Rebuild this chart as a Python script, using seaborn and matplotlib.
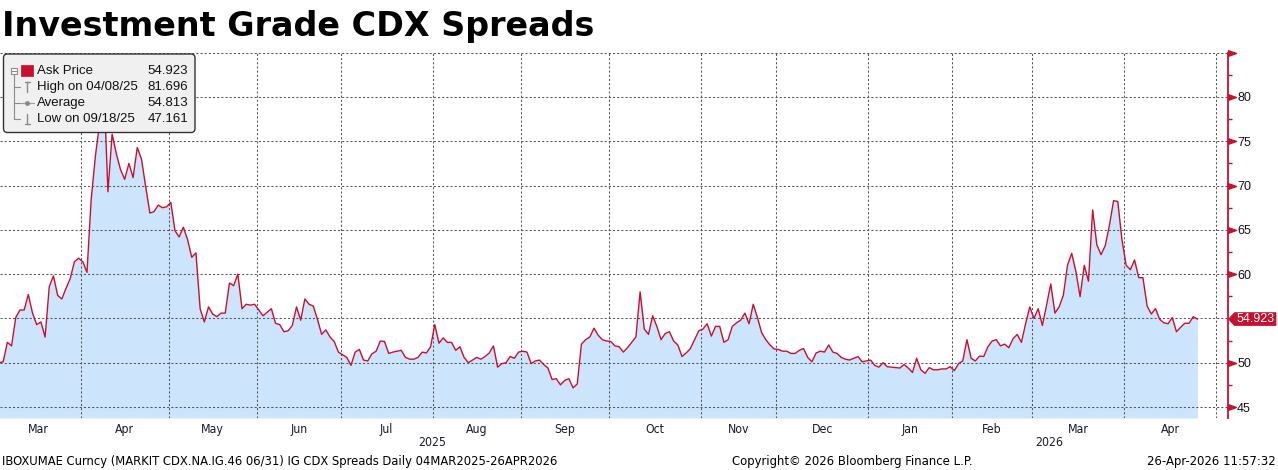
import numpy as np
import pandas as pd
import matplotlib
matplotlib.use("Agg")
import matplotlib.pyplot as plt
import matplotlib.transforms as mtransforms
from matplotlib.lines import Line2D
from matplotlib.patches import FancyBboxPatch, Rectangle, Polygon
import seaborn as sns

# IG CDX ask price, one value per trading day
mar25 = [50.0, 50.1, 52.3, 51.9, 55.1, 55.95, 55.95, 57.7, 55.6, 54.3, 54.6, 52.9, 58.6, 59.8,
         57.6, 57.2, 58.4, 59.5, 61.4, 61.8]
apr25 = [61.4, 60.2, 68.4, 73.3, 77.0, 81.696, 69.3, 75.8, 73.6, 71.8, 70.7, 72.5, 70.9, 74.3,
         73.0, 69.9, 66.9, 67.05, 67.8, 67.5, 67.6]
may25 = [68.1, 64.9, 64.2, 65.3, 63.9, 61.9, 62.4, 56.1, 54.6, 56.3, 55.5, 55.2, 55.6, 55.6,
         59.0, 58.7, 60.0, 56.1, 56.6, 56.5, 56.6]
jun25 = [55.95, 55.3, 55.7, 56.1, 54.45, 54.3, 53.5, 53.6, 54.2, 56.3, 54.8, 57.2, 56.6, 56.4,
         54.9, 53.2, 53.7, 52.9, 52.4, 51.2]
jul25 = [50.9, 50.6, 49.7, 51.2, 51.5, 50.3, 50.2, 51.0, 51.3, 52.45, 52.4, 51.05, 51.2, 51.3,
         51.4, 50.6, 50.4, 50.4, 50.6, 51.2, 51.1, 51.8]
aug25 = [54.3, 52.2, 52.8, 52.3, 52.3, 51.4, 51.8, 50.6, 50.0, 50.3, 50.6, 50.4, 50.7, 51.1,
         51.9, 49.5, 49.9, 50.0, 50.7, 50.5, 51.2]
sep25 = [51.3, 51.2, 49.9, 50.2, 50.3, 49.8, 49.4, 48.1, 48.2, 47.5, 48.0, 48.2, 47.161, 47.6,
         52.1, 52.6, 52.9, 53.9, 53.1, 52.6, 52.45]
oct25 = [52.4, 51.9, 51.8, 51.2, 51.7, 52.3, 52.9, 58.0, 53.8, 53.2, 55.3, 54.1, 52.6, 53.3,
         53.5, 52.45, 52.0, 50.7, 51.1, 51.6, 52.6, 53.6]
nov25 = [53.8, 54.4, 53.0, 54.1, 54.1, 52.3, 52.6, 54.1, 54.5, 54.8, 55.6, 54.4, 56.6, 55.1,
         53.4, 52.6, 52.0, 51.55]
dec25 = [51.5, 51.3, 51.3, 51.05, 51.05, 51.4, 51.6, 50.6, 50.1, 51.1, 51.3, 51.2, 52.0, 51.2,
         51.05, 50.6, 50.4, 50.3, 50.5, 50.7, 50.1, 50.2]
jan26 = [50.3, 49.7, 49.5, 50.0, 49.55, 49.5, 49.45, 49.4, 49.8, 49.4, 48.9, 50.5, 49.2, 48.8,
         49.45, 49.2, 49.2, 49.3, 49.3, 49.55]
feb26 = [49.1, 49.9, 50.2, 52.6, 50.5, 50.2, 50.75, 50.7, 51.8, 52.45, 52.6, 51.9, 52.1, 51.7,
         52.7, 53.2, 52.3, 54.4, 56.3]
mar26 = [55.0, 56.1, 54.2, 56.5, 58.9, 55.6, 56.3, 57.6, 61.0, 62.35, 60.3, 57.45, 61.0, 59.2,
         67.25, 63.3, 62.2, 63.2, 65.5, 68.3, 68.2, 63.85]
apr26 = [61.0, 60.5, 61.6, 59.6, 59.6, 56.4, 55.5, 56.1, 54.9, 54.5, 54.4, 55.1, 53.5, 54.0,
         54.45, 54.45, 55.2, 54.923]

# days the CDX market was shut
holidays = ["2025-04-18", "2025-05-26", "2025-06-19", "2025-07-04", "2025-09-01",
            "2025-10-13", "2025-11-11", "2025-11-27", "2025-12-25", "2026-01-01",
            "2026-01-19", "2026-02-16"]

legend_rows = [("Ask Price", "54.923"), ("High on 04/08/25", "81.696"),
               ("Average", "54.813"), ("Low on 09/18/25", "47.161")]
last_price = 54.923

title = "Investment Grade CDX Spreads"
footer_left = "IBOXUMAE Curncy (MARKIT CDX.NA.IG.46 06/31) IG CDX Spreads Daily 04MAR2025-26APR2026"
footer_mid = "Copyright\u00a9 2026 Bloomberg Finance L.P."
footer_right = "26-Apr-2026 11:57:32"

values = mar25 + apr25 + may25 + jun25 + jul25 + aug25 + sep25 + oct25 + nov25 + dec25 + jan26 + feb26 + mar26 + apr26
dates = pd.bdate_range("2025-03-04", "2026-04-24", freq="C", holidays=holidays)
df = pd.DataFrame({"date": dates, "ask": values})
df["pos"] = np.arange(len(df))

# the x axis runs on trading days and a bit past the last print
cal = pd.DataFrame({"date": pd.bdate_range("2025-03-04", "2026-05-08", freq="C", holidays=holidays)})
cal["pos"] = np.arange(len(cal))
cal["month"] = cal["date"].dt.to_period("M")
months = cal.groupby("month")["pos"].agg(["min", "max"])

XMIN, XMAX = 0.24, 293.3
YMIN, YMAX = 43.76, 85

RED = "#c8102e"
FILL = "#cce4fc"
GRID = "#555555"
NARROW = ["Liberation Sans Narrow", "DejaVu Sans"]

sns.set_style("white")
plt.rcParams["font.family"] = ["Liberation Sans", "DejaVu Sans"]

W, H = 1278, 470
fig = plt.figure(figsize=(W / 100, H / 100), dpi=100)
ax = fig.add_axes([0, (H - 418) / H, 1228 / W, (418 - 52.7) / H])
PX = mtransforms.Affine2D().scale(1 / W, 1 / H) + fig.transFigure


def py(y):
    return H - y


ax.fill_between(df["pos"], df["ask"], YMIN, color=FILL, lw=0, zorder=1)
sns.lineplot(data=df, x="pos", y="ask", color=RED, lw=1.0, ax=ax, zorder=3)
ax.set_xlim(XMIN, XMAX)
ax.set_ylim(YMIN, YMAX)
ax.set_xlabel("")
ax.set_ylabel("")

# y axis on the right, red spine
majors = list(range(45, 86, 5))
ax.yaxis.tick_right()
ax.set_yticks(majors)
ax.set_yticklabels(["" if v in (55, 85) else str(v) for v in majors])
ax.set_yticks(np.arange(47.5, 85, 5), minor=True)
ax.tick_params(axis="y", which="major", length=0, pad=6.6, labelsize=9, labelcolor="#111111")
ax.tick_params(axis="y", which="minor", length=3, width=1, color=RED, direction="out")
for s in ["left", "top", "bottom"]:
    ax.spines[s].set_visible(False)
ax.spines["right"].set_color(RED)
ax.spines["right"].set_linewidth(1.3)

ytr = mtransforms.blended_transform_factory(ax.transAxes, ax.transData)
pennant = [(0, -0.35), (1, 0), (0, 0.35), (0, -0.35)]
ticks_shown = [v for v in majors if v != 55]
ax.plot([1] * len(ticks_shown), ticks_shown, ls="none", marker=pennant, ms=11.5,
        color=RED, transform=ytr, clip_on=False, zorder=5)

# month labels centred in each month, grid at month boundaries
shown = months[(months["min"] + months["max"]) / 2 < XMAX]
centers = ((shown["min"] + shown["max"]) / 2).to_numpy()
ax.set_xticks(centers)
ax.set_xticklabels(shown.index.strftime("%b"))
bounds = (months["min"].iloc[1:] - 0.5).to_numpy()
ax.set_xticks(bounds, minor=True)
ax.tick_params(axis="x", which="both", length=0, pad=3.5, labelcolor="#1a1a2e")
ax.set_axisbelow(False)
ax.grid(True, which="minor", axis="x", ls=(0, (2, 2)), color=GRID, lw=0.75)
ax.grid(True, which="major", axis="y", ls=(0, (2, 2)), color=GRID, lw=0.75)

# title
fig.text(2 / W, py(36) / H, title, fontsize=24, fontweight="bold", family="DejaVu Sans",
         va="baseline", ha="left", color="black")

# footer, fitted to the widths in the reference
r = fig.canvas.get_renderer()
foot = []
for txt, x, ha, target in [(footer_left, 2, "left", 559), (footer_mid, 852, "center", 241),
                           (footer_right, 1276, "right", 129)]:
    t = fig.text(x / W, py(461) / H, txt, ha=ha, va="center", family=NARROW,
                 fontstretch="condensed", fontsize=9, color="black")
    w = t.get_window_extent(renderer=r).width
    t.set_fontsize(9 * target / w)
    foot.append(t)
small = foot[0].get_fontsize()
for lab in ax.get_xticklabels():
    lab.set_family(NARROW)
    lab.set_fontstretch("condensed")
    lab.set_fontsize(small * 0.95)

years = cal.groupby(cal["date"].dt.year)["pos"].min()
ytx = mtransforms.blended_transform_factory(ax.transData, fig.transFigure)
for yr, xc in [("2025", (years[2025] + years[2026] - 1) / 2), ("2026", (years[2026] + XMAX) / 2)]:
    ax.text(xc, py(443) / H, yr, transform=ytx, ha="center", va="center", family=NARROW,
            fontstretch="condensed", fontsize=small * 0.95, color="#1a1a2e")

# last price tag on the axis
tip = ytr.transform((1, last_price))
tag_tr = mtransforms.Affine2D().translate(tip[0], tip[1])
tag = Polygon([(0.5, 0), (6.5, 6.5), (48, 6.5), (48, -6.5), (6.5, -6.5)], closed=True,
              fc=RED, ec=RED, lw=0.5, transform=tag_tr, zorder=6)
fig.add_artist(tag)
fig.text(tip[0] / W + 27.5 / W, tip[1] / H, f"{last_price:.3f}", ha="center", va="center",
         color="white", fontsize=9, zorder=7)

# legend box in the top-left corner
box = FancyBboxPatch((3.5, py(132.5)), 191.5, 78.5, boxstyle="round,pad=0,rounding_size=4",
                     fc="#f0f0f0", ec="#333333", lw=1, transform=PX, zorder=4)
fig.add_artist(box)
gray = "#8a8a8a"
fig.add_artist(Line2D([14, 14], [py(73.5), py(119)], color=gray, lw=0.8, transform=PX, zorder=5))
for yy in (86.7, 103.3, 119):
    fig.add_artist(Line2D([14, 19.5], [py(yy), py(yy)], color=gray, lw=0.8, transform=PX, zorder=5))
fig.add_artist(Rectangle((11, py(74)), 6, 6.5, fc="white", ec=gray, lw=0.8, transform=PX, zorder=5))
fig.add_artist(Line2D([12.3, 15.7], [py(70.8), py(70.8)], color=gray, lw=0.8, transform=PX, zorder=6))
fig.add_artist(Rectangle((21, py(76)), 12, 11, fc=RED, ec=RED, lw=0.5, transform=PX, zorder=5))
fig.add_artist(Line2D([27, 27], [py(81.5), py(92)], color=gray, lw=1, transform=PX, zorder=5))
fig.add_artist(Line2D([24.5, 29.5], [py(81.5), py(81.5)], color=gray, lw=1, transform=PX, zorder=5))
fig.add_artist(Line2D([20.5, 33.5], [py(103.3), py(103.3)], color="#a0a0a0", lw=0.9,
                      transform=PX, zorder=5))
fig.add_artist(Line2D([27], [py(103.3)], color=gray, marker="o", ms=2.5, transform=PX, zorder=6))
fig.add_artist(Line2D([27, 27], [py(113.5), py(124)], color=gray, lw=1, transform=PX, zorder=5))
fig.add_artist(Line2D([24.5, 29.5], [py(124), py(124)], color=gray, lw=1, transform=PX, zorder=5))
for i, (lab, val) in enumerate(legend_rows):
    yy = py(71 + i * 16.1) / H
    fig.text(37 / W, yy, lab, ha="left", va="center", fontsize=9.5, color="#111111", zorder=6)
    fig.text(188 / W, yy, val, ha="right", va="center", fontsize=9.5, color="#111111", zorder=6)

fig.savefig("out.png", dpi=100, facecolor="white")
